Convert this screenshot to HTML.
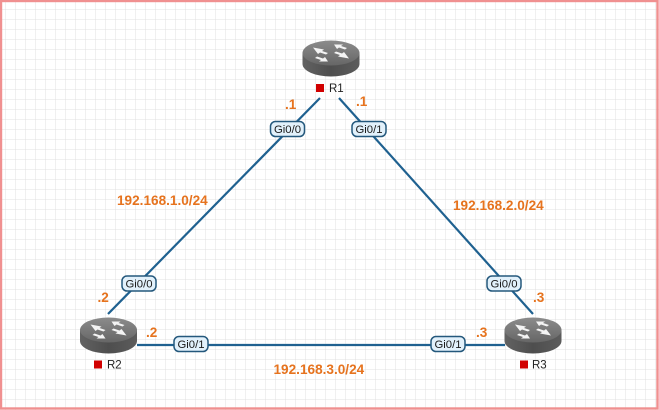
<!DOCTYPE html>
<html><head><meta charset="utf-8"><style>
html,body{margin:0;padding:0;background:#fff;}
svg{display:block;}
text{font-family:"Liberation Sans",Arial,sans-serif;}
.ip{fill:#e6731e;font-weight:bold;font-size:13.6px;}
.lb{fill:#1a1a1a;font-size:11.3px;}
.nm{fill:#222;font-size:11.5px;}
</style></head><body>
<svg width="659" height="410" viewBox="0 0 659 410" xmlns="http://www.w3.org/2000/svg">
<defs>
<pattern id="g" x="5" y="9" width="10" height="10" patternUnits="userSpaceOnUse">
<path d="M0 0H10M0 0V10" stroke="#e0e0e0" stroke-width="1" fill="none"/>
</pattern>
<linearGradient id="top" x1="0" y1="0" x2="0" y2="1">
<stop offset="0" stop-color="#8c8c8c"/><stop offset="1" stop-color="#666"/>
</linearGradient>
<linearGradient id="side" x1="0" y1="0" x2="1" y2="0">
<stop offset="0" stop-color="#626262"/><stop offset="0.5" stop-color="#4e4e4e"/><stop offset="1" stop-color="#5c5c5c"/>
</linearGradient>
<g id="router">
<path d="M-28.5 13 L-28.5 24 A28.5 12.5 0 0 0 28.5 24 L28.5 13 Z" fill="url(#side)"/>
<ellipse cx="0" cy="13" rx="28.5" ry="12.5" fill="url(#top)"/>
<g fill="#f4f4f4">
<polygon points="-18,7.5 -7,9.5 -9,11 -3,13 -5,14.5 -11,12.5 -13,14"/>
<polygon points="18,18.5 7,16.5 9,15 3,13 5,11.5 11,13.5 13,12"/>
<polygon points="3,4.5 12,4.5 10,6 16,8 14,9.5 8,7.5 6,9"/>
<polygon points="-3,21.5 -12,21.5 -10,20 -16,18 -14,16.5 -8,18.5 -6,17"/>
</g>
</g>
</defs>
<rect x="0" y="0" width="659" height="410" fill="#fff"/>
<rect x="0" y="0" width="659" height="410" fill="url(#g)"/>
<rect x="1" y="1" width="656.5" height="407.5" fill="none" stroke="#f09090" stroke-width="2.4"/>

<!-- connectors -->
<g stroke="#1f6190" stroke-width="2.2" fill="none">
<line x1="320" y1="98" x2="108" y2="314"/>
<line x1="339" y1="98" x2="533" y2="314"/>
<line x1="137" y1="345" x2="505" y2="345"/>
</g>

<!-- routers -->
<use href="#router" x="331" y="40"/>
<use href="#router" x="108.5" y="317"/>
<use href="#router" x="533" y="317"/>

<!-- names -->
<rect x="316" y="84" width="8" height="8" fill="#d10000"/>
<text class="nm" x="329" y="92">R1</text>
<rect x="94" y="360.5" width="8" height="8" fill="#d10000"/>
<text class="nm" x="107" y="368.5">R2</text>
<rect x="520" y="360.5" width="8" height="8" fill="#d10000"/>
<text class="nm" x="532" y="368.5">R3</text>

<!-- interface labels -->
<g fill="#e2f1fb" stroke="#24587c" stroke-width="1.5">
<rect x="270.5" y="121.5" width="34" height="15" rx="5"/>
<rect x="352" y="121.5" width="34" height="15" rx="5"/>
<rect x="122" y="276" width="34" height="15" rx="5"/>
<rect x="487" y="276" width="34" height="15" rx="5"/>
<rect x="174" y="336.5" width="34" height="15" rx="5"/>
<rect x="431" y="336.5" width="34" height="15" rx="5"/>
</g>
<g class="lb" text-anchor="middle">
<text x="287.5" y="133">Gi0/0</text>
<text x="369" y="133">Gi0/1</text>
<text x="139" y="287.5">Gi0/0</text>
<text x="504" y="287.5">Gi0/0</text>
<text x="191" y="348">Gi0/1</text>
<text x="448" y="348">Gi0/1</text>
</g>

<!-- addresses -->
<text class="ip" x="285" y="109">.1</text>
<text class="ip" x="356" y="106">.1</text>
<text class="ip" x="97.5" y="302">.2</text>
<text class="ip" x="146" y="337">.2</text>
<text class="ip" x="533" y="302">.3</text>
<text class="ip" x="476" y="337">.3</text>
<text class="ip" x="117" y="205">192.168.1.0/24</text>
<text class="ip" x="453" y="210">192.168.2.0/24</text>
<text class="ip" x="273.5" y="374">192.168.3.0/24</text>
</svg>
</body></html>
